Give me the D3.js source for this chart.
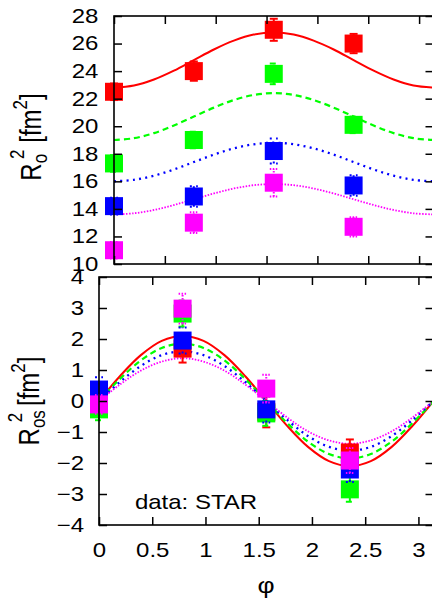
<!DOCTYPE html>
<html>
<head>
<meta charset="utf-8">
<script src="https://cdn.jsdelivr.net/npm/d3@7"></script>
<style>
  body { margin: 0; background: #fff; }
  svg { display: block; }
  text { font-family: "Liberation Sans", Arial, sans-serif; fill: #000; }
</style>
</head>
<body>
<svg width="432" height="602"></svg>
<script>
// measured points: phi = 0, pi/4, pi/2, 3pi/4
const phiPts = [0, 0.785, 1.571, 2.356];

const roRed = [22.5, 24.0, 27.0, 26.0];
const roRedErr = [0.6, 0.7, 0.8, 0.7];
const roGreen = [17.3, 19.0, 23.8, 20.1];
const roGreenErr = [0.6, 0.6, 0.75, 0.6];
const roBlue = [14.2, 14.9, 18.2, 15.7];
const roBlueErr = [0.6, 0.75, 0.9, 0.75];
const roMag = [11.0, 13.0, 15.9, 12.7];
const roMagErr = [0.6, 0.75, 1.0, 0.7];

const rosRed = [0.1, 1.69, -0.35, -1.66];
const rosRedErr = [0.35, 0.45, 0.5, 0.42];
const rosGreen = [-0.27, 2.82, -0.4, -2.85];
const rosGreenErr = [0.35, 0.42, 0.4, 0.4];
const rosBlue = [0.37, 1.95, -0.27, -2.21];
const rosBlueErr = [0.4, 0.42, 0.42, 0.4];
const rosMag = [-0.11, 2.98, 0.4, -1.92];
const rosMagErr = [0.3, 0.48, 0.45, 0.4];

// model curves, read at phi = k*pi/16
const phiFit = [0, 0.196, 0.393, 0.589, 0.785, 0.982, 1.178, 1.374, 1.571,
                1.767, 1.963, 2.160, 2.356, 2.553, 2.749, 2.945, 3.1416];

const fitRoRed = [22.8, 22.95, 23.39, 24.03, 24.8, 25.57, 26.21, 26.65, 26.8,
                  26.65, 26.21, 25.57, 24.8, 24.03, 23.39, 22.95, 22.8];
const fitRoGreen = [19.0, 19.13, 19.5, 20.05, 20.7, 21.35, 21.9, 22.27, 22.4,
                    22.27, 21.9, 21.35, 20.7, 20.05, 19.5, 19.13, 19.0];
const fitRoBlue = [16.0, 16.11, 16.41, 16.86, 17.4, 17.94, 18.39, 18.69, 18.8,
                   18.69, 18.39, 17.94, 17.4, 16.86, 16.41, 16.11, 16.0];
const fitRoMag = [13.6, 13.68, 13.92, 14.28, 14.7, 15.12, 15.48, 15.72, 15.8,
                  15.72, 15.48, 15.12, 14.7, 14.28, 13.92, 13.68, 13.6];

const fitRosRed = [0, 0.80, 1.48, 1.94, 2.1, 1.94, 1.48, 0.80, 0,
                   -0.80, -1.48, -1.94, -2.1, -1.94, -1.48, -0.80, 0];
const fitRosGreen = [0, 0.71, 1.31, 1.71, 1.85, 1.71, 1.31, 0.71, 0,
                     -0.71, -1.31, -1.71, -1.85, -1.71, -1.31, -0.71, 0];
const fitRosBlue = [0, 0.61, 1.13, 1.48, 1.6, 1.48, 1.13, 0.61, 0,
                    -0.61, -1.13, -1.48, -1.6, -1.48, -1.13, -0.61, 0];
const fitRosMag = [0, 0.53, 0.98, 1.27, 1.38, 1.27, 0.98, 0.53, 0,
                   -0.53, -0.98, -1.27, -1.38, -1.27, -0.98, -0.53, 0];

const xTicks = [0, 0.5, 1, 1.5, 2, 2.5, 3];
const roTicks = [10, 12, 14, 16, 18, 20, 22, 24, 26, 28];
const rosTicks = [-4, -3, -2, -1, 0, 1, 2, 3, 4];

const styles = [
    {color: "#ff0000", dash: null, width: 2},
    {color: "#00ff00", dash: "6,4", width: 2.2},
    {color: "#0000ff", dash: "2,4.3", width: 2.3},
    {color: "#ff00ff", dash: "1.5,1.5", width: 1.8}
];

const SX = 1.2; // text in the reference is stretched horizontally
const FONT = '"Liberation Sans", Arial, sans-serif';
const svg = d3.select("svg");

function panel(opts) {
    const x = d3.scaleLinear().domain([0, Math.PI]).range([opts.left, 433.5]);
    const y = d3.scaleLinear().domain(opts.yDomain).range([opts.bottom, opts.top]);
    const g = svg.append("g");

    const clipId = "clip" + opts.id;
    svg.append("clipPath").attr("id", clipId)
        .append("rect")
        .attr("x", opts.left).attr("y", opts.top)
        .attr("width", 433.5 - opts.left).attr("height", opts.bottom - opts.top);

    // fit curves
    const line = d3.line()
        .x((d, i) => x(phiFit[i]))
        .y(d => y(d))
        .curve(d3.curveCatmullRom);
    opts.fits.forEach((f, i) => {
        g.append("path")
            .attr("clip-path", `url(#${clipId})`)
            .attr("d", line(f))
            .attr("fill", "none")
            .attr("stroke", styles[i].color)
            .attr("stroke-width", styles[i].width)
            .attr("stroke-dasharray", styles[i].dash);
    });

    // data with error bars
    opts.series.forEach((s, i) => {
        const st = styles[i];
        const sg = g.append("g");
        s.vals.forEach((v, j) => {
            const cx = x(phiPts[j]);
            const e = s.err[j];
            sg.append("line")
                .attr("x1", cx).attr("x2", cx)
                .attr("y1", y(v - e)).attr("y2", y(v + e))
                .attr("stroke", st.color).attr("stroke-width", 2)
                .attr("stroke-dasharray", st.dash);
            [v - e, v + e].forEach(t => {
                sg.append("line")
                    .attr("x1", cx - 4).attr("x2", cx + 4)
                    .attr("y1", y(t)).attr("y2", y(t))
                    .attr("stroke", st.color).attr("stroke-width", 2)
                    .attr("stroke-dasharray", st.dash);
            });
        });
        sg.selectAll("rect")
            .data(s.vals)
            .enter()
            .append("rect")
            .attr("x", (d, j) => x(phiPts[j]) - 9)
            .attr("y", d => y(d) - 9)
            .attr("width", 18)
            .attr("height", 18)
            .attr("fill", st.color);
    });

    // axes, ticks pointing inward on all four sides
    const ax = svg.append("g");
    ax.append("g")
        .attr("transform", `translate(${opts.left},0)`)
        .call(d3.axisLeft(y).tickValues(opts.yTicks).tickSizeInner(-8).tickSizeOuter(0).tickPadding(opts.pad));
    ax.append("g")
        .attr("transform", "translate(433.5,0)")
        .call(d3.axisRight(y).tickValues(opts.yTicks).tickSizeInner(-8).tickSizeOuter(0).tickFormat(""));
    ax.append("g")
        .attr("transform", `translate(0,${opts.top})`)
        .call(d3.axisTop(x).tickValues(xTicks).tickSizeInner(-8).tickSizeOuter(0).tickFormat(""));
    ax.append("g")
        .attr("transform", `translate(0,${opts.bottom})`)
        .call(d3.axisBottom(x).tickValues(xTicks).tickSizeInner(-8).tickSizeOuter(0).tickPadding(18)
            .tickFormat(opts.xLabels ? d3.format("") : ""));
    ax.selectAll(".domain").remove();
    ax.selectAll(".tick line").attr("stroke-width", 1.5);
    ax.selectAll("g").attr("font-size", null).attr("font-family", null);
    ax.selectAll("text")
        .attr("transform", `scale(${SX},1)`)
        .attr("font-size", 20)
        .attr("font-family", FONT);

    svg.append("rect")
        .attr("x", opts.left).attr("y", opts.top)
        .attr("width", 433.5 - opts.left).attr("height", opts.bottom - opts.top)
        .attr("fill", "none").attr("stroke", "#000").attr("stroke-width", 1.6);
    return {x, y};
}

panel({
    id: 1, left: 114, top: 16, bottom: 264, yDomain: [10, 28], yTicks: roTicks, pad: 13,
    xLabels: false,
    fits: [fitRoRed, fitRoGreen, fitRoBlue, fitRoMag],
    series: [
        {vals: roRed, err: roRedErr}, {vals: roGreen, err: roGreenErr},
        {vals: roBlue, err: roBlueErr}, {vals: roMag, err: roMagErr}
    ]
});

panel({
    id: 2, left: 99, top: 277, bottom: 525, yDomain: [-4, 4], yTicks: rosTicks, pad: 12.5,
    xLabels: true,
    fits: [fitRosRed, fitRosGreen, fitRosBlue, fitRosMag],
    series: [
        {vals: rosRed, err: rosRedErr}, {vals: rosGreen, err: rosGreenErr},
        {vals: rosBlue, err: rosBlueErr}, {vals: rosMag, err: rosMagErr}
    ]
});

// axis titles
function yTitle(cx, cy, sub) {
    const t = svg.append("text")
        .attr("transform", `translate(${cx},${cy}) scale(${SX},1) rotate(-90)`)
        .attr("text-anchor", "middle")
        .attr("font-size", 24);
    t.append("tspan").text("R");
    t.append("tspan").attr("font-size", 17).attr("dy", 5).text(sub);
    t.append("tspan").attr("font-size", 17).attr("dx", sub.length > 1 ? -12 : -5).attr("dy", -19).text("2");
    t.append("tspan").attr("dy", 14).text("\u00a0[fm");
    t.append("tspan").attr("font-size", 17).attr("dy", -12).text("2");
    t.append("tspan").attr("dy", 12).text("]");
}
yTitle(41, 137, "o");
yTitle(39, 401, "os");

svg.append("text")
    .attr("transform", `translate(196,509) scale(${SX},1)`)
    .attr("text-anchor", "middle")
    .attr("font-size", 20)
    .text("data: STAR");

svg.append("text")
    .attr("transform", `translate(266,593) scale(${SX},1)`)
    .attr("text-anchor", "middle")
    .attr("font-size", 22)
    .text("\u03c6");
</script>
</body>
</html>
